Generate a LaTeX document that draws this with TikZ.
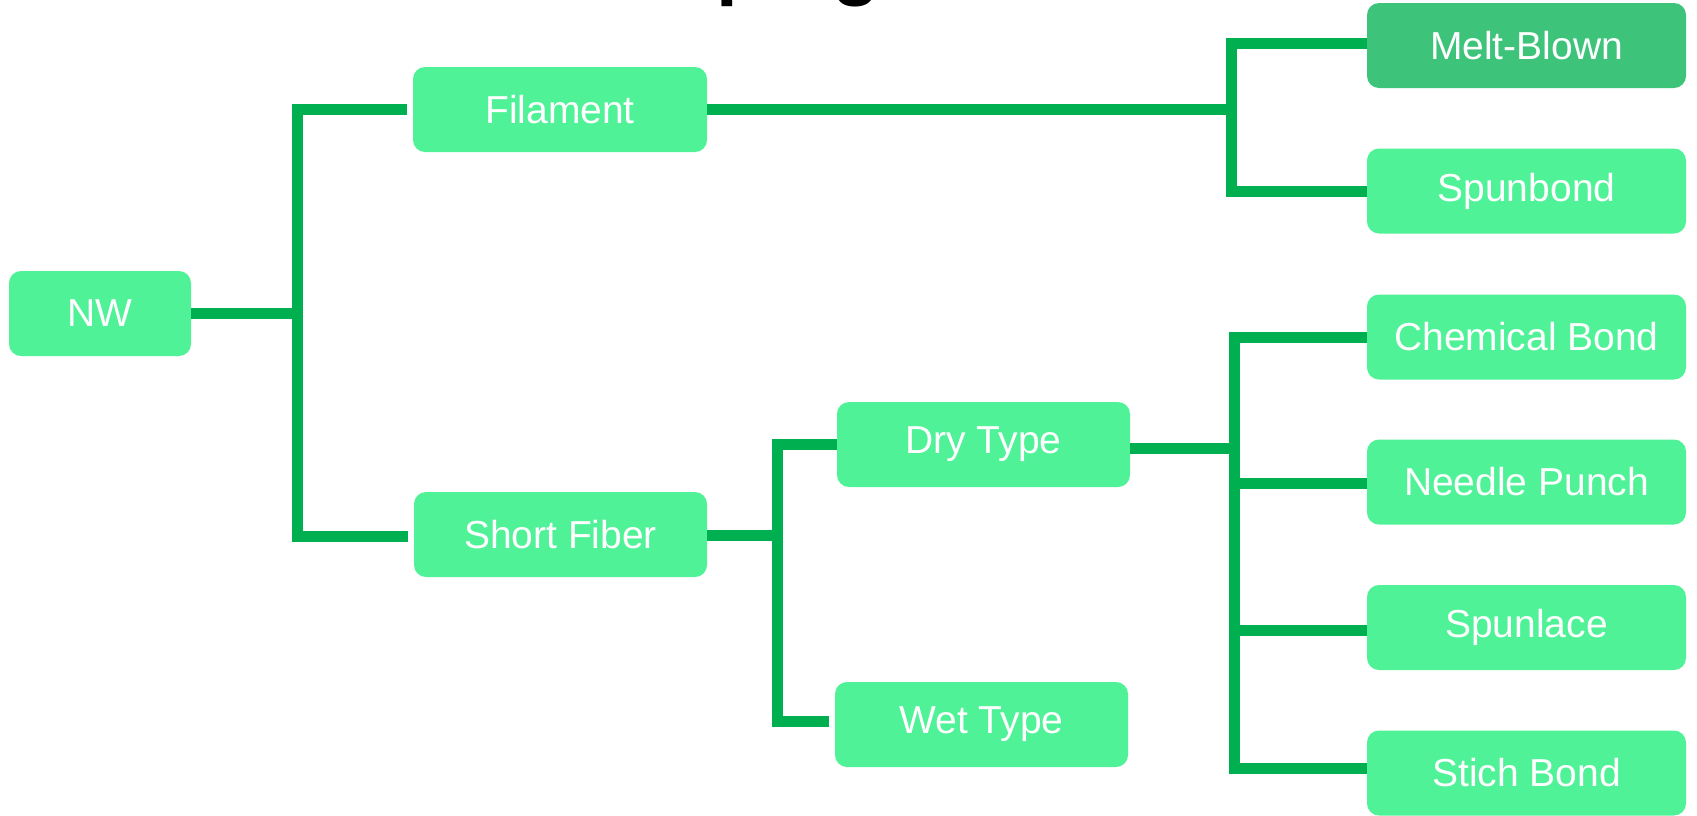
\documentclass[tikz,border=0pt]{standalone}
\usepackage{fontspec}
\setmainfont{Liberation Sans}
\definecolor{linegreen}{RGB}{0,176,80}
\definecolor{boxgreen}{RGB}{80,242,152}
\definecolor{boxdark}{RGB}{62,196,122}
\begin{document}
\begin{tikzpicture}[x=1pt,y=-1pt,
  box/.style={rounded corners=12pt, fill=boxgreen, draw=none, text=white,
    font=\fontsize{39}{46}\selectfont, minimum height=85pt, inner sep=0pt},
  rbox/.style={box, minimum width=319pt},
  mbox/.style={box, minimum width=293pt},
  link/.style={draw=linegreen, line width=11pt, line join=miter},
  frag/.style={anchor=base west, inner sep=0pt, font=\fontsize{78}{78}\selectfont\bfseries}]
\useasboundingbox (0,0) rectangle (1697,815);
\clip (0,0) rectangle (1697,815);

% title fragments (cut off at the top)
\node[frag] (tp) at (716,-10) {p};
\node[frag] (tg) at (832,-10) {g};

% nodes
\node[box, minimum width=182pt] (nw) at (100,313.5) {NW};
\node[mbox, minimum width=294pt] (fil) at (560,109.5) {Filament};
\node[mbox] (sf) at (560.5,534.5) {Short Fiber};
\node[mbox] (dry) at (983.5,444.5) {Dry Type};
\node[mbox] (wet) at (981.5,724.5) {Wet Type};
\node[rbox, fill=boxdark] (mb) at (1526.5,45.5) {Melt-Blown};
\node[rbox] (sb) at (1526.5,191) {Spunbond};
\node[rbox] (cb) at (1526.5,337) {Chemical Bond};
\node[rbox] (np) at (1526.5,482) {Needle Punch};
\node[rbox] (sl) at (1526.5,627.5) {Spunlace};
\node[rbox] (st) at (1526.5,773) {Stich Bond};

% junction coordinates
\coordinate (j1) at (297,313.5);
\coordinate (j1t) at (297,109.5);
\coordinate (j1b) at (297,536);
\coordinate (j2) at (1231,109.5);
\coordinate (j2t) at (1231,43);
\coordinate (j2b) at (1231,191);
\coordinate (j3) at (777,535);
\coordinate (j3t) at (777,444.5);
\coordinate (j3b) at (777,721);
\coordinate (j4) at (1234,448);
\coordinate (j4t) at (1234,337);
\coordinate (j4n) at (1234,483);
\coordinate (j4s) at (1234,630);
\coordinate (j4b) at (1234,768);

% connectors
\draw[link] (nw.east |- j1) -- (j1);
\draw[link, shorten >=6pt] (j1t) -- (j1t -| fil.west);
\draw[link, shorten >=6pt] (j1b) -- (j1b -| sf.west);
\draw[link, line cap=rect] (j1t) -- (j1b);

\draw[link] (fil.east |- j2) -- (j2);
\draw[link, line cap=rect] (j2t) -- (j2b);
\draw[link] (j2t) -- (j2t -| mb.west);
\draw[link] (j2b) -- (j2b -| sb.west);

\draw[link] (sf.east |- j3) -- (j3);
\draw[link, line cap=rect] (j3t) -- (j3b);
\draw[link] (j3t) -- (j3t -| dry.west);
\draw[link, shorten >=6pt] (j3b) -- (j3b -| wet.west);

\draw[link] (dry.east |- j4) -- (j4);
\draw[link, line cap=rect] (j4t) -- (j4b);
\draw[link] (j4t) -- (j4t -| cb.west);
\draw[link] (j4n) -- (j4n -| np.west);
\draw[link] (j4s) -- (j4s -| sl.west);
\draw[link] (j4b) -- (j4b -| st.west);
\end{tikzpicture}
\end{document}
